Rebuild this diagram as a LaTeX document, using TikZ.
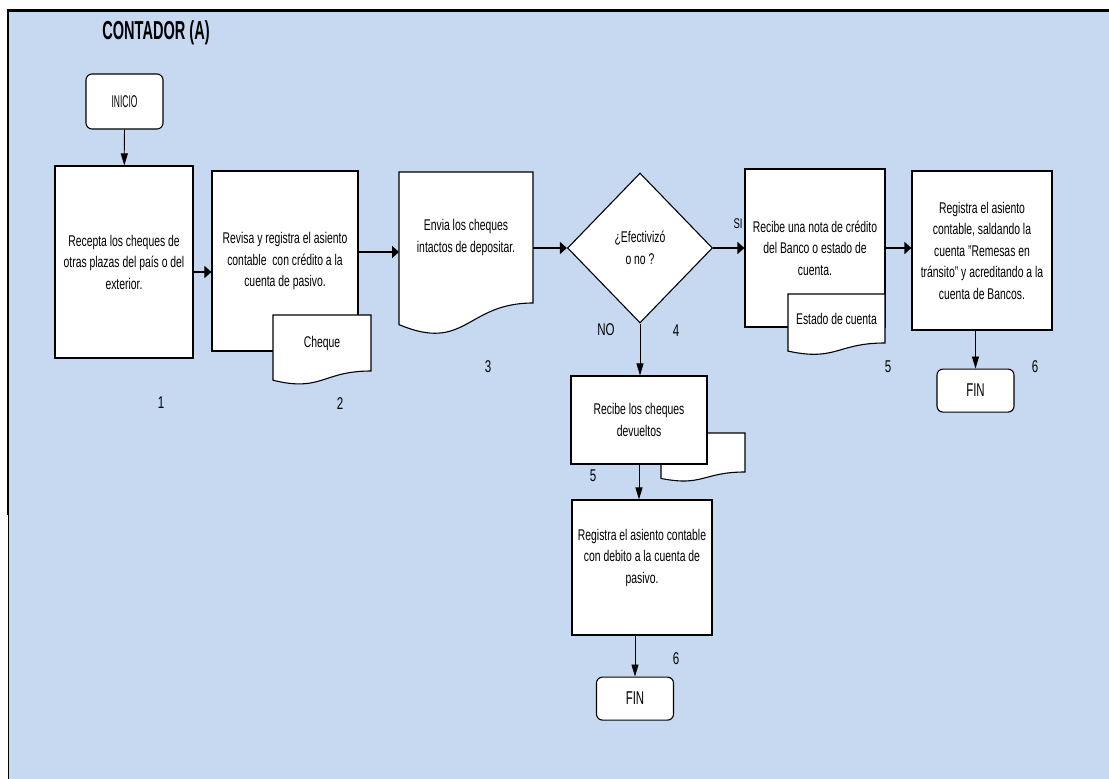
\documentclass[tikz,border=0pt]{standalone}
\usepackage{fontspec}
\setmainfont{Liberation Sans}[FakeStretch=0.67]
\newfontfamily\titlefont{Liberation Sans}[FakeStretch=0.56]
\newfontfamily\termfont{Liberation Sans}[FakeStretch=0.5]
\newfontfamily\finfont{Liberation Sans}[FakeStretch=0.62]
\newfontfamily\numfont{Liberation Sans}[FakeStretch=0.68]
\usetikzlibrary{shapes, positioning, arrows.meta, calc}

% document symbol: rectangle holds the text, wavy foot hangs below it
\newdimen\docXl \newdimen\docXr \newdimen\docXm
\newdimen\docYb \newdimen\docYt \newdimen\docYl \newdimen\docYc
\makeatletter
\pgfdeclareshape{document}{
  \inheritsavedanchors[from=rectangle]
  \inheritanchorborder[from=rectangle]
  \inheritanchor[from=rectangle]{center}
  \inheritanchor[from=rectangle]{north}
  \inheritanchor[from=rectangle]{south}
  \inheritanchor[from=rectangle]{east}
  \inheritanchor[from=rectangle]{west}
  \inheritanchor[from=rectangle]{north east}
  \inheritanchor[from=rectangle]{north west}
  \inheritanchor[from=rectangle]{south east}
  \inheritanchor[from=rectangle]{south west}
  \inheritanchor[from=rectangle]{text}
  \inheritanchor[from=rectangle]{base}
  \inheritanchor[from=rectangle]{mid}
  \backgroundpath{
    \southwest \docXl=\pgf@x \docYb=\pgf@y
    \northeast \docXr=\pgf@x \docYt=\pgf@y
    \docXm=.5\docXl \advance\docXm by .5\docXr
    \docYc=\docYt \advance\docYc by -\docYb
    \docYl=-.165\docYc \advance\docYl by \docYb
    \docYc=-.38\docYc \advance\docYc by \docYb
    \pgfpathmoveto{\pgfqpoint{\docXl}{\docYt}}
    \pgfpathlineto{\pgfqpoint{\docXr}{\docYt}}
    \pgfpathlineto{\pgfqpoint{\docXr}{\docYb}}
    \pgfpathcurveto{\pgfqpoint{\docXm}{\docYb}}{\pgfqpoint{\docXm}{\docYc}}{\pgfqpoint{\docXl}{\docYl}}
    \pgfpathclose
  }
}
\makeatother

\definecolor{panelColor}{HTML}{C6D9F1}
\colorlet{drawColor}{black}
\tikzstyle{fTerminal}=[rectangle, rounded corners=6pt, align=center, draw=drawColor,
line width=1.1pt, fill=white, minimum width=77pt, minimum height=43pt,
font=\finfont\fontsize{18.5}{20}\selectfont]
\tikzstyle{fTask}=[rectangle, align=center, draw=drawColor, line width=1.1pt, fill=white,
inner sep=2pt, font=\fontsize{15.5}{21.5}\selectfont]
\tikzstyle{fDoc}=[document, align=center, draw=drawColor, line width=1.1pt, fill=white,
inner sep=2pt, outer sep=0pt, font=\fontsize{15.5}{21.5}\selectfont]
\tikzstyle{fDecision}=[diamond, align=center, draw=drawColor, line width=1.1pt, fill=white,
minimum width=145pt, minimum height=150pt, inner sep=0pt, font=\fontsize{15.5}{21.5}\selectfont]
\tikzstyle{fNum}=[inner sep=0pt, font=\numfont\fontsize{17}{17}\selectfont]
\tikzstyle{hArrow}=[-{Triangle[length=7pt, width=12pt]}, line width=1.6pt, draw=black]
\tikzstyle{vArrow}=[-{Triangle[length=12pt, width=7pt]}, line width=0.8pt, draw=black]

\begin{document}
\begin{tikzpicture}[x=1pt, y=-1pt]
  \useasboundingbox (0,0) rectangle (1109,779);
  \fill[panelColor] (8,10) rectangle (1109,779);
  \draw[line width=2.2pt] (8,515) -- (8,10.5) -- (1109,10.5);
  \draw[line width=1pt] (8,515) -- (8,779);
  \node(title) at (156,33) [font=\titlefont\bfseries\fontsize{26}{26}\selectfont] {CONTADOR (A)};

  \node(inicio) at (124.5,101.5) [fTerminal, minimum height=55pt,
    font=\termfont\fontsize{17}{17}\selectfont] {INICIO};
  \node(opRecepta) at (124,262) [fTask, minimum width=138pt, minimum height=192pt]
    {Recepta los cheques de\\otras plazas del país o del\\exterior.};
  \draw [vArrow] (inicio) -- (opRecepta);
  \node(opRevisa) at (285,261) [fTask, minimum width=146pt, minimum height=180pt]
    {Revisa y registra el asiento\\contable~ con crédito a la\\cuenta de pasivo.};
  \draw [hArrow] ([yshift=-10pt]opRecepta.east) -- ([yshift=-10pt]opRecepta.east -| opRevisa.west);
  \node(docCheque) at (322,343) [fDoc, minimum width=98pt, minimum height=56pt] {Cheque};
  \node(docEnvia) at (466,237.5) [fDoc, minimum width=134pt, minimum height=131pt]
    {Envia los cheques\\intactos de depositar.};
  \draw [hArrow] ([yshift=9pt]opRevisa.east) -- ([yshift=9pt]opRevisa.east -| docEnvia.west);
  \node(selEfect) at (640,248) [fDecision] {¿Efectivizó\\o no ?};
  \draw [hArrow] (docEnvia.east |- selEfect.west) -- (selEfect.west);

  % SI branch
  \node(opNota) at (815,248) [fTask, minimum width=140pt, minimum height=158pt]
    {Recibe una nota de crédito\\del Banco o estado de\\cuenta.};
  \draw [hArrow] (selEfect.east) -- (opNota.west);
  \node(docEstado) at (836.5,318.5) [fDoc, minimum width=97pt, minimum height=49pt] {Estado de cuenta};
  \node(opSalda) at (982,250.5) [fTask, minimum width=140pt, minimum height=159pt]
    {Registra el asiento\\contable, saldando la\\cuenta "Remesas en\\tránsito" y acreditando a la\\cuenta de Bancos.};
  \draw [hArrow] (opNota.east) -- (opNota.east -| opSalda.west);
  \node(finA) [fTerminal, below=38pt of opSalda, xshift=-6.5pt] {FIN};
  \draw [vArrow] (finA.north |- opSalda.south) -- (finA.north);

  % NO branch
  \node(docDevueltos) at (703,452.5) [fDoc, minimum width=84pt, minimum height=39pt] {};
  \node(opDevueltos) at (639,420) [fTask, minimum width=136pt, minimum height=88pt]
    {Recibe los cheques\\devueltos};
  \draw [vArrow] (selEfect.south) -- (selEfect.south |- opDevueltos.north);
  \node(opDebito) at (642,567.5) [fTask, minimum width=140pt, minimum height=135pt, text depth=23pt]
    {Registra el asiento contable\\con debito a la cuenta de\\pasivo.};
  \draw [vArrow] (opDevueltos.south) -- (opDevueltos.south |- opDebito.north);
  \node(finB) [fTerminal, below=41pt of opDebito, xshift=-7pt] {FIN};
  \draw [vArrow] (finB.north |- opDebito.south) -- (finB.north);

  % labels
  \node(lblSi) at (738,224) [fNum, font=\numfont\fontsize{14}{14}\selectfont] {SI};
  \node(lblNo) at (606,330) [fNum] {NO};
  \node(num1) at (161,403) [fNum] {1};
  \node(num2) at (340,404) [fNum] {2};
  \node(num3) at (488,367) [fNum] {3};
  \node(num4) at (676,331) [fNum] {4};
  \node(num5a) at (888,367) [fNum] {5};
  \node(num6a) at (1035,367) [fNum] {6};
  \node(num5b) at (593,476) [fNum] {5};
  \node(num6b) at (676,659) [fNum] {6};
\end{tikzpicture}
\end{document}
